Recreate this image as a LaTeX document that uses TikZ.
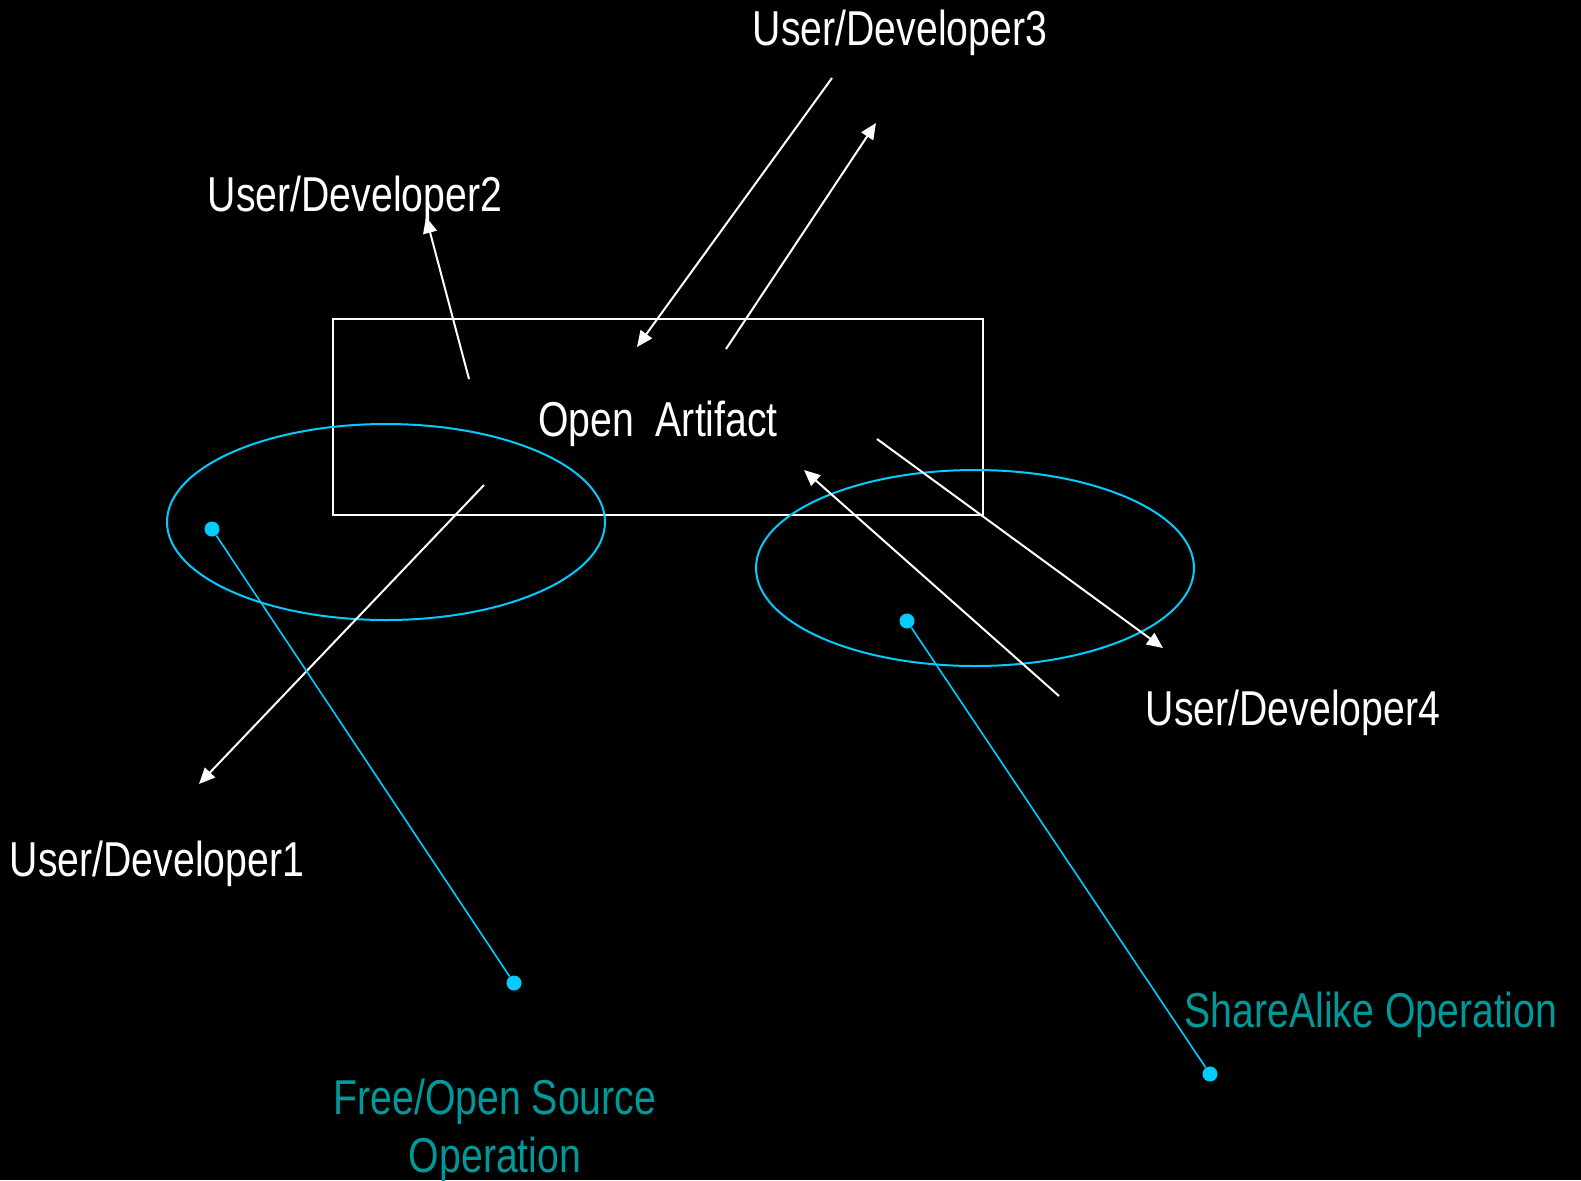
\documentclass[tikz,border=0pt]{standalone}
\usepackage{fontspec}
\setmainfont{Liberation Sans}[FakeStretch=0.8]
\usetikzlibrary{arrows.meta}

\definecolor{linecyan}{RGB}{0,204,255}
\definecolor{labelteal}{RGB}{0,153,153}

\begin{document}
\begin{tikzpicture}[x=0.5pt,y=-0.5pt,
    lbl/.style={text=white,font=\fontsize{24.5}{29}\selectfont,inner sep=0pt},
    oplbl/.style={lbl,text=labelteal,align=center},
    flow/.style={white,line width=1pt,-{Triangle[length=8pt,width=7pt]}},
    ring/.style={linecyan,line width=1pt},
    pin/.style={linecyan,line width=0.8pt},
    dot/.style={circle,fill=linecyan,inner sep=0pt,minimum size=7.5pt}]
    \useasboundingbox (0,0) rectangle (1581,1180);
    \fill[black] (0,0) rectangle (1581,1180);
    \node[draw=white,line width=1pt,minimum width=325pt,minimum height=98pt,lbl,
        text height=24pt,text depth=5pt] (artifact) at (658,417) {Open\ \ Artifact};
    \node[lbl] (dev1) at (157,864) {User/Developer1};
    \node[lbl] (dev2) at (355,199) {User/Developer2};
    \node[lbl] (dev3) at (900,33) {User/Developer3};
    \node[lbl] (dev4) at (1293,713) {User/Developer4};
    \node[oplbl] (foss) at (495,1131) {Free/Open Source\\[0pt]Operation};
    \node[oplbl] (share) at (1371,1015) {ShareAlike Operation};
    \draw[ring] (386,522) ellipse [x radius=219,y radius=98];
    \draw[ring] (975,568) ellipse [x radius=219,y radius=98];
    % arrow ends
    \coordinate (a1s) at (484,485);  \coordinate (a1e) at (199,784);
    \coordinate (a2s) at (469,379);  \coordinate (a2e) at (426,217);
    \coordinate (a3s) at (832,78);   \coordinate (a3e) at (637,347);
    \coordinate (a4s) at (726,349);  \coordinate (a4e) at (876,123);
    \coordinate (a5s) at (877,439);  \coordinate (a5e) at (1163,648);
    \coordinate (a6s) at (1059,696); \coordinate (a6e) at (804,470);
    \foreach \i in {1,...,6}
        \draw[flow] (a\i s) -- (a\i e);
    \node[dot] (p1) at (212,529) {};
    \node[dot] (q1) at (514,983) {};
    \node[dot] (p2) at (907,621) {};
    \node[dot] (q2) at (1210,1074) {};
    \draw[pin] (p1) -- (q1);
    \draw[pin] (p2) -- (q2);
\end{tikzpicture}
\end{document}
